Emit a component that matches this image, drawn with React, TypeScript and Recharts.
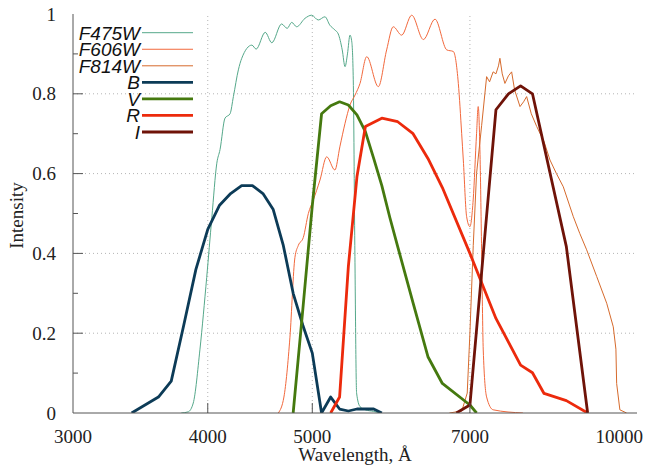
import React from 'react';
import { LineChart, Line, XAxis, YAxis, ReferenceLine, Legend, Label } from 'recharts';

// ---------- data (wavelength in Å, relative intensity) ----------
const wavelengthTicks = [3000, 4000, 5000, 7000, 10000];
const innerWavelengthTicks = [4000, 5000, 7000];
const intensityTicks = [0, 0.1, 0.2, 0.3, 0.4, 0.5, 0.6, 0.7, 0.8, 0.9, 1];
const majorIntensity = [0, 0.2, 0.4, 0.6, 0.8, 1];
const gridIntensities = [0.2, 0.4, 0.6, 0.8];

const f475wData: number[][] = [
  [3780, 0], [3837, 0.003], [3878, 0.025], [3934, 0.16], [3991, 0.34], [4035, 0.49],
  [4078, 0.626], [4106, 0.66], [4150, 0.739], [4195, 0.75], [4225, 0.793], [4270, 0.86],
  [4301, 0.889], [4395, 0.922], [4435, 0.912], [4522, 0.954], [4586, 0.928], [4683, 0.975],
  [4739, 0.964], [4785, 0.979], [4836, 0.968], [4922, 0.989], [4993, 0.997], [5064, 0.985],
  [5137, 0.993], [5191, 0.972], [5247, 0.96], [5285, 0.95], [5330, 0.91], [5362, 0.868],
  [5390, 0.9], [5419, 0.947], [5440, 0.93], [5457, 0.835], [5475, 0.42], [5496, 0.05],
  [5536, 0.016], [5600, 0.008], [5700, 0.004], [5778, 0],
];

const f606wData: number[][] = [
  [4650, 0], [4706, 0.04], [4767, 0.19], [4818, 0.39], [4853, 0.42], [4905, 0.44],
  [4958, 0.5], [5011, 0.534], [5083, 0.584], [5156, 0.642], [5247, 0.609], [5303, 0.667],
  [5362, 0.726], [5419, 0.772], [5478, 0.797], [5536, 0.826], [5616, 0.893], [5757, 0.818],
  [5860, 0.91], [5943, 0.968], [6051, 0.947], [6182, 0.997], [6338, 0.936], [6497, 0.987],
  [6663, 0.91], [6757, 0.906], [6829, 0.826], [6878, 0.7], [6902, 0.634], [6951, 0.492],
  [7000, 0.467], [7049, 0.534], [7100, 0.7], [7125, 0.768], [7151, 0.66], [7177, 0.409],
  [7202, 0.158], [7254, 0.04], [7356, 0.008], [7839, 0],
];

const f814wData: number[][] = [
  [6700, 0], [6880, 0.005], [6960, 0.05], [7000, 0.2], [7050, 0.42], [7100, 0.6],
  [7177, 0.72], [7254, 0.843], [7300, 0.83], [7356, 0.855], [7400, 0.85], [7440, 0.87],
  [7463, 0.889], [7500, 0.85], [7543, 0.826], [7600, 0.845], [7652, 0.855], [7700, 0.81],
  [7790, 0.768], [7850, 0.78], [7901, 0.793], [7980, 0.75], [8073, 0.718], [8200, 0.68],
  [8305, 0.634], [8420, 0.6], [8544, 0.567], [8729, 0.492], [8850, 0.45], [8981, 0.409],
  [9176, 0.342], [9374, 0.275], [9506, 0.216], [9560, 0.16], [9575, 0.074], [9641, 0.008],
  [9780, 0],
];

const bData: number[][] = [
  [3400, 0], [3600, 0.04], [3700, 0.08], [3800, 0.22], [3900, 0.36], [4000, 0.46],
  [4100, 0.52], [4200, 0.55], [4300, 0.57], [4400, 0.57], [4500, 0.55], [4600, 0.51],
  [4700, 0.42], [4800, 0.3], [4900, 0.22], [5000, 0.15], [5100, 0], [5200, 0.04],
  [5300, 0.01], [5400, 0.005], [5500, 0.01], [5600, 0.01], [5700, 0.01], [5800, 0],
];

const vData: number[][] = [
  [4800, 0], [4900, 0.26], [5000, 0.52], [5100, 0.75], [5200, 0.77], [5300, 0.78],
  [5400, 0.772], [5500, 0.747], [5600, 0.705], [5700, 0.638], [5800, 0.57], [5900, 0.49],
  [6000, 0.417], [6200, 0.276], [6400, 0.141], [6600, 0.074], [7000, 0.02], [7100, 0],
];

const rData: number[][] = [
  [5200, 0], [5300, 0.04], [5400, 0.367], [5500, 0.592], [5600, 0.718], [5800, 0.739],
  [6000, 0.73], [6200, 0.7], [6400, 0.638], [6600, 0.565], [7000, 0.4], [7400, 0.237],
  [7800, 0.12], [8000, 0.101], [8200, 0.049], [8600, 0.031], [9000, 0],
];

const iData: number[][] = [
  [6800, 0], [7000, 0.02], [7400, 0.76], [7600, 0.8], [7800, 0.82], [8000, 0.8],
  [8600, 0.417], [9000, 0],
];

const toPoints = (rows: number[][]) => rows.map(([w, v]) => ({ w, v }));

type Series = { name: string; data: number[][]; color: string; width: number; smooth: boolean };

const series: Series[] = [
  { name: 'F475W', data: f475wData, color: '#55a88a', width: 1, smooth: true },
  { name: 'F606W', data: f606wData, color: '#f2683c', width: 1, smooth: true },
  { name: 'F814W', data: f814wData, color: '#d66a2c', width: 1, smooth: false },
  { name: 'B', data: bData, color: '#0c3b57', width: 2.8, smooth: false },
  { name: 'V', data: vData, color: '#45790f', width: 2.8, smooth: false },
  { name: 'R', data: rData, color: '#ec2a0c', width: 2.8, smooth: false },
  { name: 'I', data: iData, color: '#6f1308', width: 2.8, smooth: false },
];

const AXIS = '#555555';
const GRID = '#b4b4b4';
const SERIF = '"Liberation Serif", "Times New Roman", serif';
const SANS = '"Liberation Sans", Arial, sans-serif';

const BottomTick = (props: any) => {
  const { x, y, payload } = props;
  const v = payload.value;
  const inner = innerWavelengthTicks.includes(v);
  const last = v === 10000;
  return (
    <g>
      {inner && <line x1={x} y1={y} x2={x} y2={y - 10} stroke={AXIS} strokeWidth={1} />}
      <text
        x={last ? x + 6 : x}
        y={y + 30}
        textAnchor={last ? 'end' : 'middle'}
        fontFamily={SERIF}
        fontSize={19}
        fill="#222"
      >
        {String(v)}
      </text>
    </g>
  );
};

const TopTick = (props: any) => {
  const { x, y, payload } = props;
  const inner = innerWavelengthTicks.includes(payload.value);
  if (!inner) return <g />;
  return <line x1={x} y1={y} x2={x} y2={y + 10} stroke={AXIS} strokeWidth={1} />;
};

const isMajor = (v: number) => majorIntensity.some((m) => Math.abs(m - v) < 1e-9);

const LeftTick = (props: any) => {
  const { x, y, payload } = props;
  const v = payload.value;
  const major = isMajor(v);
  const edge = v === 0 || v === 1;
  const txt = v === 0 ? '0' : v === 1 ? '1' : v.toFixed(1);
  return (
    <g>
      {!edge && <line x1={x} y1={y} x2={x + (major ? 10 : 5)} y2={y} stroke={AXIS} strokeWidth={1} />}
      {major && (
        <text x={x - 17} y={y + 6.5} textAnchor="end" fontFamily={SERIF} fontSize={19} fill="#222">
          {txt}
        </text>
      )}
    </g>
  );
};

const RightTick = (props: any) => {
  const { x, y, payload } = props;
  const v = payload.value;
  if (v === 0 || v === 1) return <g />;
  const major = isMajor(v);
  return <line x1={x} y1={y} x2={x - (major ? 10 : 5)} y2={y} stroke={AXIS} strokeWidth={1} />;
};

const LegendBox = () => {
  const rowY0 = 32.7;
  const step = 16.55;
  return (
    <svg width={210} height={150} style={{ position: 'absolute', left: 0, top: 0, overflow: 'visible' }}>
      {series.map((s, i) => {
        const y = rowY0 + i * step;
        return (
          <g key={s.name}>
            <text x={140} y={y + 6.8} textAnchor="end" fontFamily={SANS} fontSize={19} fontStyle="italic" fill="#111">
              {s.name}
            </text>
            <line x1={142} y1={y} x2={193} y2={y} stroke={s.color} strokeWidth={s.width} />
          </g>
        );
      })}
    </svg>
  );
};

export default function App() {
  return (
    <div style={{ position: 'absolute', left: 0, top: 0, width: 645, height: 466, background: '#fff' }}>
      <LineChart width={645} height={466} margin={{ top: 14, right: 8, bottom: 0, left: 0 }}>
        <XAxis
          xAxisId="bottom"
          dataKey="w"
          type="number"
          scale="log"
          domain={[3000, 10000]}
          allowDataOverflow
          ticks={wavelengthTicks}
          interval={0}
          height={53}
          tickSize={0}
          tickMargin={0}
          tickLine={false}
          axisLine={{ stroke: AXIS, strokeWidth: 1 }}
          tick={<BottomTick />}
        >
          <Label
            content={(p: any) => {
              const vb = p.viewBox || { x: 73, y: 413, width: 564 };
              return (
                <text x={vb.x + vb.width / 2} y={461} textAnchor="middle" fontFamily={SERIF} fontSize={19} fill="#222">
                  Wavelength, Å
                </text>
              );
            }}
          />
        </XAxis>
        <XAxis
          xAxisId="top"
          orientation="top"
          dataKey="w"
          type="number"
          scale="log"
          domain={[3000, 10000]}
          allowDataOverflow
          ticks={wavelengthTicks}
          interval={0}
          height={0}
          tickSize={0}
          tickMargin={0}
          tickLine={false}
          axisLine={{ stroke: AXIS, strokeWidth: 1 }}
          tick={<TopTick />}
        />
        <YAxis
          yAxisId="left"
          type="number"
          domain={[0, 1]}
          allowDataOverflow
          ticks={intensityTicks}
          interval={0}
          width={73}
          tickSize={0}
          tickMargin={0}
          tickLine={false}
          axisLine={{ stroke: AXIS, strokeWidth: 1 }}
          tick={<LeftTick />}
        >
          <Label
            content={(p: any) => {
              const vb = p.viewBox || { x: 0, y: 14, height: 399 };
              const cy = vb.y + vb.height / 2 + 2;
              return (
                <text x={23} y={cy} transform={`rotate(-90 23 ${cy})`} textAnchor="middle" fontFamily={SERIF} fontSize={19} fill="#222">
                  Intensity
                </text>
              );
            }}
          />
        </YAxis>
        <YAxis
          yAxisId="right"
          orientation="right"
          type="number"
          domain={[0, 1]}
          allowDataOverflow
          ticks={intensityTicks}
          interval={0}
          width={0}
          tickSize={0}
          tickMargin={0}
          tickLine={false}
          axisLine={{ stroke: AXIS, strokeWidth: 1 }}
          tick={<RightTick />}
        />

        {innerWavelengthTicks.map((w) => (
          <ReferenceLine key={'vx' + w} x={w} xAxisId="bottom" yAxisId="left" stroke={GRID} strokeDasharray="1 3" />
        ))}
        {gridIntensities.map((v) => (
          <ReferenceLine key={'hy' + v} y={v} xAxisId="bottom" yAxisId="left" stroke={GRID} strokeDasharray="1 3" />
        ))}

        {series.map((s) => (
          <Line
            key={s.name}
            name={s.name}
            data={toPoints(s.data)}
            dataKey="v"
            xAxisId="bottom"
            yAxisId="left"
            type={s.smooth ? 'monotone' : 'linear'}
            stroke={s.color}
            strokeWidth={s.width}
            strokeLinejoin="round"
            dot={false}
            activeDot={false}
            isAnimationActive={false}
          />
        ))}

        <Legend
          layout="vertical"
          align="center"
          verticalAlign="middle"
          wrapperStyle={{ position: 'absolute', left: 0, top: 0, width: 210, height: 150 }}
          content={() => <LegendBox />}
        />
      </LineChart>
    </div>
  );
}
